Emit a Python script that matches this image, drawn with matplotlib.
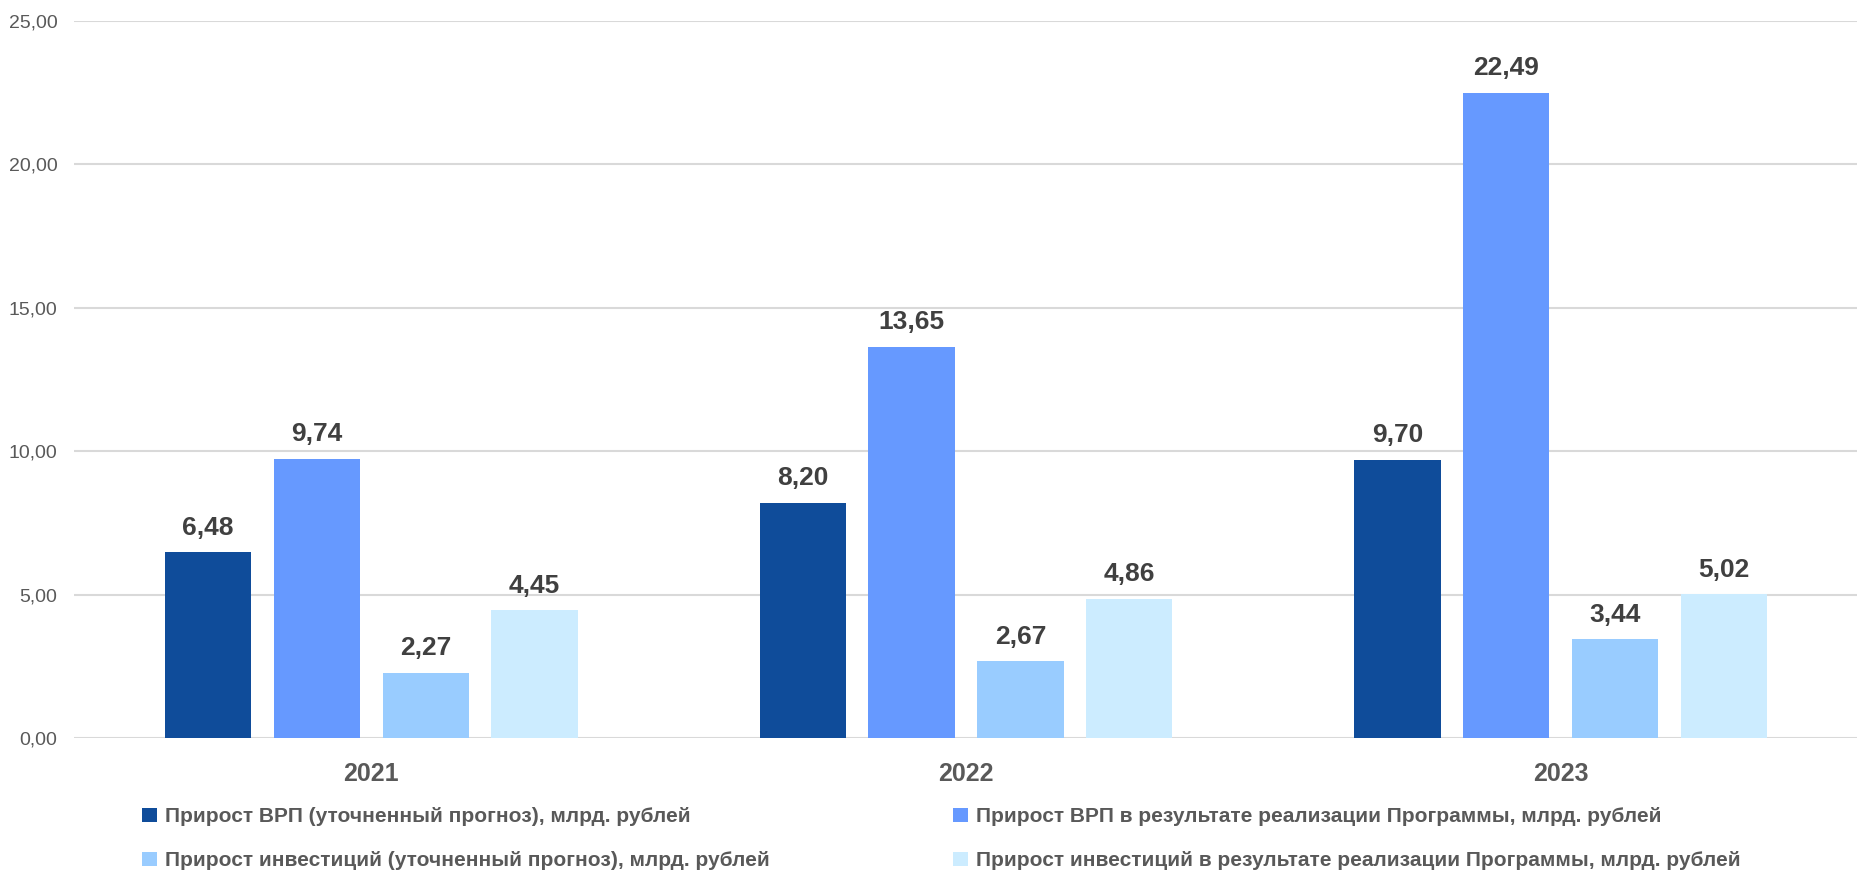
import matplotlib
matplotlib.use("Agg")
import matplotlib.pyplot as plt
import numpy as np

years = ['2021', '2022', '2023']
series_names = [
    'Прирост ВРП (уточненный прогноз), млрд. рублей',
    'Прирост ВРП в результате реализации Программы, млрд. рублей',
    'Прирост инвестиций (уточненный прогноз), млрд. рублей',
    'Прирост инвестиций в результате реализации Программы, млрд. рублей',
]
vrp_forecast = [6.48, 8.20, 9.70]
vrp_program = [9.74, 13.65, 22.49]
inv_forecast = [2.27, 2.67, 3.44]
inv_program = [4.45, 4.86, 5.02]

colors = ['#0F4C9A', '#6699FF', '#99CCFF', '#CCECFF']

plt.rcParams['font.family'] = ['Liberation Sans', 'DejaVu Sans']

fig = plt.figure(figsize=(18.58, 8.75), dpi=100)
ax = fig.add_axes([0.0398, 0.1566, 0.9602, 0.8194])

x = np.arange(len(years))
width = 0.145
step = 0.183
all_series = [vrp_forecast, vrp_program, inv_forecast, inv_program]
bars = []
for i, vals in enumerate(all_series):
    offs = (i - 1.5) * step
    b = ax.bar(x + offs, vals, width, color=colors[i], label=series_names[i], zorder=3)
    bars.append(b)
    for rect, v in zip(b, vals):
        ax.annotate(f'{v:.2f}'.replace('.', ','),
                    xy=(rect.get_x() + rect.get_width() / 2, v),
                    xytext=(0, 9), textcoords='offset points',
                    ha='center', va='bottom', fontsize=19,
                    weight='bold', color='#404040')

ax.set_xlim(-0.5, 2.5)
ax.set_ylim(0, 25)
ax.set_yticks(np.arange(0, 26, 5))
ax.set_yticklabels([f'{t:.2f}'.replace('.', ',') for t in np.arange(0, 26, 5)])
ax.set_xticks(x)
ax.set_xticklabels(years, fontsize=18, weight='bold', color='#595959')
ax.tick_params(axis='x', length=0, pad=17)
ax.tick_params(axis='y', length=0, pad=12, labelsize=14, labelcolor='#595959')
ax.grid(axis='y', color='#D9D9D9', linewidth=1.5, zorder=0)
for s in ax.spines.values():
    s.set_visible(False)

order = [0, 2, 1, 3]
handles = [bars[i] for i in order]
labels = [series_names[i] for i in order]
fig.legend(handles, labels, ncol=2, loc='upper left',
           bbox_to_anchor=(0.072, 0.087), frameon=False,
           prop={'size': 15, 'weight': 'bold'}, labelcolor='#595959',
           handlelength=0.7, handleheight=0.7, handletextpad=0.4,
           columnspacing=8.8, labelspacing=1.2, borderaxespad=0)

fig.savefig('out.png', dpi=100)
